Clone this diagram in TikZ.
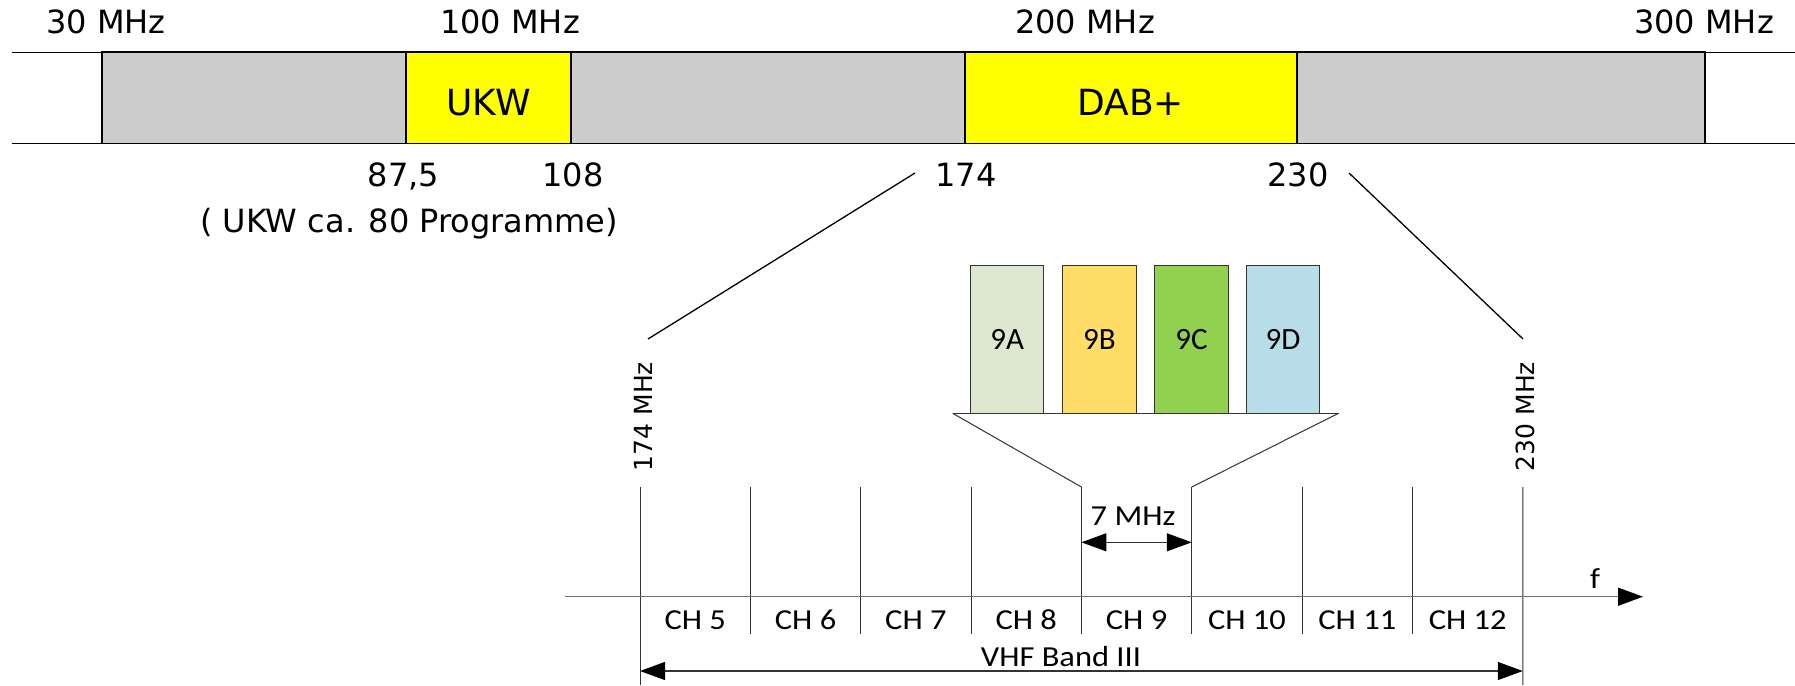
\documentclass[tikz,border=0pt]{standalone}
\usepackage{fontspec}
\usepackage{graphicx}
\setmainfont{DejaVu Sans}
\newfontfamily\calfont{Carlito}
\usetikzlibrary{arrows.meta}
\definecolor{bandgrey}{HTML}{CCCCCC}
\definecolor{ukwyellow}{HTML}{FFFF00}
\definecolor{chA}{HTML}{DDE6CE}
\definecolor{chB}{HTML}{FFDD66}
\definecolor{chC}{HTML}{92D050}
\definecolor{chD}{HTML}{B7DEE8}
\definecolor{linegrey}{HTML}{333333}
\definecolor{axisgrey}{HTML}{707070}
\newcommand\hstretch[1]{\scalebox{1.12}[1]{#1}}
\tikzset{
  toplbl/.style={font=\fontsize{32}{38}\selectfont, inner sep=0pt, anchor=base},
  bandtxt/.style={font=\fontsize{36}{42}\selectfont, inner sep=0pt, anchor=base},
  rotlbl/.style={font=\fontsize{25}{30}\selectfont, inner sep=0pt, rotate=90},
  lowtxt/.style={font=\calfont\fontsize{29}{34}\selectfont, inner sep=0pt, anchor=base},
  bandbox/.style={draw=black, line width=1.6pt, inner sep=0pt, minimum height=91pt},
  chbox/.style={draw=linegrey, line width=1.1pt, inner sep=0pt, minimum width=73.4pt,
    minimum height=147.6pt, font=\calfont\fontsize{31}{36}\selectfont},
  longline/.style={draw=black, line width=1.3pt},
  slant/.style={draw=black, line width=1.3pt},
  thinline/.style={draw=linegrey, line width=1pt},
  bigtip/.tip={Triangle[length=25pt,width=18pt,color=black,fill=black]},
  dimarrow/.style={draw=linegrey, line width=1.1pt, bigtip-bigtip},
  axisarrow/.style={draw=axisgrey, line width=1.4pt, -bigtip},
}
\begin{document}
\begin{tikzpicture}[x=1pt,y=-1pt]
\useasboundingbox (0,0) rectangle (1795,685);
% ---- top band ----
\coordinate (lt0) at (11.5,52.3);
\coordinate (lt1) at (1795,52.3);
\coordinate (lb0) at (11.5,143.3);
\coordinate (lb1) at (1795,143.3);
\draw[longline] (lt0) -- (lt1);
\draw[longline] (lb0) -- (lb1);
\node[bandbox, fill=bandgrey, minimum width=1603pt] (band) at (903.5,97.8) {};
\node[bandbox, fill=ukwyellow, minimum width=165pt] (ukw) at (488.5,97.8) {};
\node[bandbox, fill=ukwyellow, minimum width=332pt] (dab) at (1130.8,97.8) {};
\node[bandtxt] (ukwt) at (488.5,115) {UKW};
\node[bandtxt] (dabt) at (1130.8,115) {DAB+};
\node[toplbl] (f30) at (106,33.3) {30 MHz};
\node[toplbl] (f100) at (510,33.3) {100 MHz};
\node[toplbl] (f200) at (1085,33.3) {200 MHz};
\node[toplbl] (f300) at (1704,33.3) {300 MHz};
\node[toplbl] (e875) at (403.5,186.7) {87,5};
\node[toplbl] (e108) at (573,186.7) {108};
\node[toplbl] (e174) at (966,186.7) {174};
\node[toplbl] (e230) at (1298,186.7) {230};
\node[toplbl] (prog) at (409,232) {( UKW ca. 80 Programme)};
% ---- zoom lines ----
\coordinate (s174a) at (915,173);
\coordinate (s174b) at (648,339);
\coordinate (s230a) at (1349,173);
\coordinate (s230b) at (1523,339);
\draw[slant] (s174a) -- (s174b);
\draw[slant] (s230a) -- (s230b);
\node[rotlbl] (m174) at (643,416.5) {174 MHz};
\node[rotlbl] (m230) at (1525,416.5) {230 MHz};
% ---- channel boxes ----
\node[chbox, fill=chA] (b9A) at (1007.2,339.5) {9A};
\node[chbox, fill=chB] (b9B) at (1099.35,339.5) {9B};
\node[chbox, fill=chC] (b9C) at (1191.5,339.5) {9C};
\node[chbox, fill=chD] (b9D) at (1283.05,339.5) {9D};
% ---- channel grid ----
\foreach \k in {0,...,8} {
  \coordinate (v\k) at ({640+110.35*\k},487);
  \coordinate (w\k) at ({640+110.35*\k},634);
}
\coordinate (w0) at (640,685);
\coordinate (w8) at (1522.8,685);
\foreach \k in {0,...,8} { \draw[thinline] (v\k) -- (w\k); }
% funnel
\coordinate (fl) at (952.7,413.3);
\coordinate (fr) at (1338.5,413.3);
\draw[thinline] (fl) -- (fr);
\draw[thinline] (fl) -- (v4);
\draw[thinline] (fr) -- (v5);
% 7 MHz
\coordinate (a7l) at (1081.4,542.3);
\coordinate (a7r) at (1191.75,542.3);
\draw[dimarrow] (a7l) -- (a7r);
\node[lowtxt] (t7) at (1133,525) {\hstretch{7 MHz}};
% axis
\coordinate (ax0) at (565,596.7);
\coordinate (ax1) at (1643,596.7);
\draw[axisarrow] (ax0) -- (ax1);
\node[lowtxt] (tf) at (1595,588.3) {\hstretch{f}};
% CH labels
\foreach \k/\t in {0/5,1/6,2/7,3/8,4/9,5/10,6/11,7/12} {
  \node[lowtxt] (ch\t) at ({695.2+110.35*\k},629.3) {\hstretch{CH \t}};
}
% VHF band
\coordinate (vh0) at (640,671);
\coordinate (vh1) at (1522.8,671);
\draw[dimarrow] (vh0) -- (vh1);
\node[lowtxt] (vhf) at (1061,666.7) {\hstretch{VHF Band III}};
\end{tikzpicture}
\end{document}
